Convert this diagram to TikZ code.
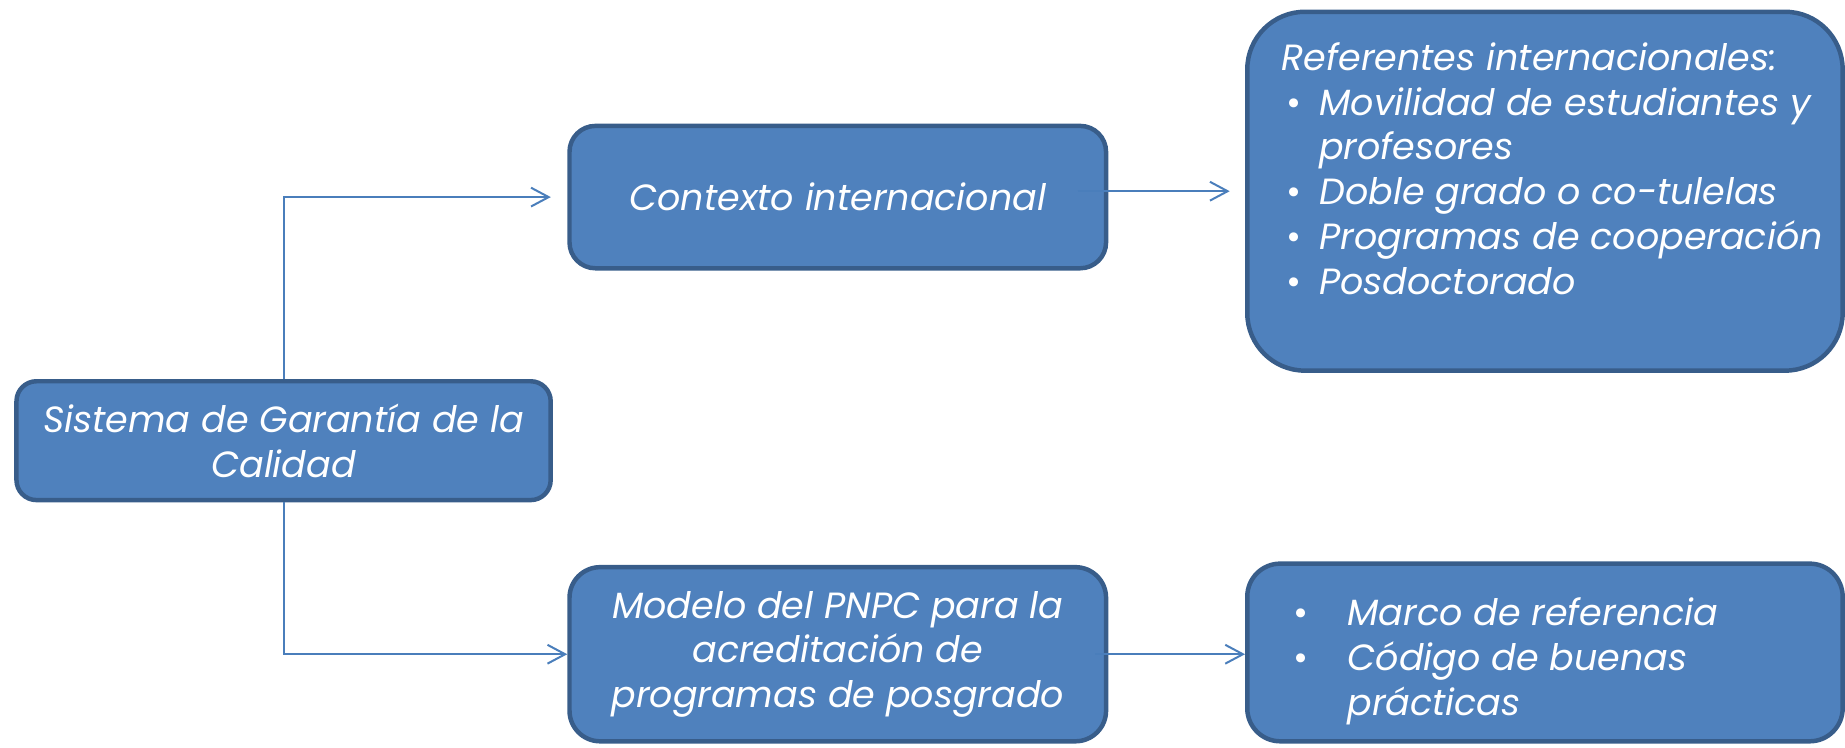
\documentclass[tikz,border=0pt]{standalone}
\usepackage{fontspec}
\setmainfont{Poppins}
\usetikzlibrary{arrows.meta}
\definecolor{box_blue}{RGB}{79, 129, 189}
\definecolor{box_edge}{RGB}{56, 93, 138}
\definecolor{link_blue}{RGB}{74, 126, 187}
\tikzstyle{bn}=[rectangle,fill=box_blue,draw=box_edge,line width=3.8pt,
  text=white,align=center,inner sep=0pt,font=\fontsize{31}{38}\selectfont\itshape]
\tikzstyle{tn}=[text=white,align=left,inner sep=0pt,
  font=\fontsize{31}{38}\selectfont\itshape]
\tikzstyle{ln}=[draw=link_blue,line width=1.7pt,
  -{Straight Barb[length=15pt,width=16pt]}]
\newcommand{\bul}[1]{\makebox[#1][l]{\hspace{4pt}\upshape\textbullet}}

\begin{document}
\begin{tikzpicture}[x=1pt,y=-1pt]
            \useasboundingbox (0, 0) rectangle (1568, 635);
            \node [style=bn, minimum width=454pt, minimum height=101pt, rounded corners=17pt] (0) at (241, 374.5) {Sistema de Garantía de la\\Calidad};
            \node [style=bn, minimum width=456pt, minimum height=121pt, rounded corners=22pt] (1) at (712, 167.5) {Contexto internacional};
            \node [style=bn, minimum width=506pt, minimum height=305pt, rounded corners=49pt] (2) at (1313, 162.5) {};
            \node [style=bn, minimum width=456pt, minimum height=148pt, rounded corners=26pt] (3) at (712, 556) {Modelo del PNPC para la\\acreditación de\\programas de posgrado};
            \node [style=bn, minimum width=506pt, minimum height=151pt, rounded corners=28pt] (4) at (1313, 554.5) {};
            \node [style=tn, anchor=north west] (22) at (1089, 36) {Referentes internacionales:\\
              \bul{32pt}Movilidad de estudiantes y\\
              \hspace*{32pt}profesores\\
              \bul{32pt}Doble grado o co-tulelas\\
              \bul{32pt}Programas de cooperación\\
              \bul{32pt}Posdoctorado};
            \node [style=tn, anchor=north west] (44) at (1095, 508) {\bul{50pt}Marco de referencia\\
              \bul{50pt}Código de buenas\\
              \hspace*{50pt}prácticas};
            \draw [style=ln, shorten >=14pt] (0.north) |- (1.west);
            \draw [style=ln] (0.south) |- (3.west);
            \draw [style=ln, shorten <=-26pt, shorten >=13pt] (2.west -| 1.east) -- (2.west);
            \draw [style=ln, shorten <=-11pt] (3.east) -- (3.east -| 4.west);
    \end{tikzpicture}
\end{document}
